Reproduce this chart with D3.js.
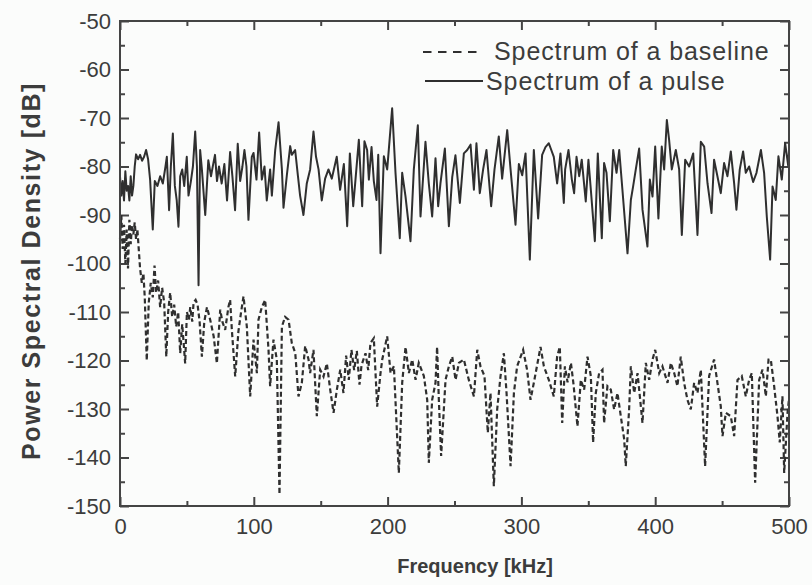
<!DOCTYPE html>
<html>
<head>
<meta charset="utf-8">
<script src="https://cdn.jsdelivr.net/npm/d3@7"></script>
<style>
  html, body { margin: 0; padding: 0; background: #fbfcfb; }
  svg { display: block; font-family: "Liberation Sans", Arial, sans-serif; }
  .axis text { fill: #3c3c3c; font-size: 22px; }
  .axis line { stroke: #444; stroke-width: 2; }
  .axis path { display: none; }
</style>
</head>
<body>
<div class="visual"></div>
<script>
const [W, H] = [812, 585];
const margin = { top: 21, right: 23, bottom: 79, left: 120 };
const width = W - margin.left - margin.right;
const height = H - margin.top - margin.bottom;

// axis ticks
const xTicks = [0, 100, 200, 300, 400, 500];
const xMinor = [50, 150, 250, 350, 450];
const yTicks = [-150, -140, -130, -120, -110, -100, -90, -80, -70, -60, -50];
const yMinor = [-145, -135, -125, -115, -105, -95, -85, -75, -65, -55];

const seriesNames = ['Spectrum of a baseline', 'Spectrum of a pulse'];

// pulse spectrum (kHz, dB)
const pulseFreq = [0, 1, 2, 3, 4, 5, 6, 7, 8, 9, 10, 11, 12, 13.5, 15, 16.5, 18, 19.5, 21, 22.5,
  24.5, 26, 28, 30, 32, 34, 35, 36.7, 38, 39.5, 41, 42.4, 43.7, 45, 46.5, 48, 49.9, 51.2, 53, 54.5,
  56.2, 57.5, 58.7, 59.9, 61.2, 63.7, 66, 68, 70, 71, 72.5, 74, 76, 78, 80, 82.3, 84, 86, 88, 89.8,
  91.5, 93, 94.5, 96, 98.5, 99.8, 102, 104, 106, 108, 109.7, 112.2, 113.5, 116, 118.5, 121, 122.2, 124.7, 127.2, 128.4,
  130.9, 133, 134.6, 137.1, 139.6, 142.1, 144.6, 146.5, 148.4, 150.8, 153.3, 155.8, 158.3, 162, 164.5, 167.3, 169.8, 171.8, 174.3, 176,
  178.5, 181, 182.7, 184.7, 186, 188, 189.7, 191.7, 193, 194.7, 197.2, 199.7, 203.4, 205.9, 209.1, 210.9, 213.4, 217.1, 219.6, 222.6,
  224.6, 228.3, 230.8, 233.3, 235.8, 237.8, 239.5, 242.8, 245.8, 248.3, 250.7, 254, 257, 259.5, 262, 264.5, 266.4, 268.9, 271.4, 273.9,
  277.4, 279.9, 283.1, 285.6, 289.4, 291.9, 295.6, 298.1, 300.6, 303.1, 306.3, 309.3, 312.5, 315.5, 318, 320.5, 324.2, 326.7, 329.2, 331.7,
  332.7, 335.2, 337.7, 339.4, 341.2, 343.2, 345.1, 348.1, 350.1, 351.9, 354.9, 357.1, 360.1, 361.8, 363.6, 366.1, 368.6, 371.1, 373.1, 375.5,
  379.3, 381.8, 383.5, 385.5, 388, 390.5, 394.2, 396, 398, 400, 402.4, 404.9, 406.7, 408.7, 410.4, 412.4, 415.4, 417.9, 419.9, 422.4,
  425.4, 428.4, 431.6, 434.1, 436.6, 439.1, 442.1, 444, 446.5, 449, 451.5, 454, 456.5, 459, 460.7, 463.2, 465.7, 467.7, 470.2, 473.2,
  475.7, 479, 481.4, 483.4, 485.9, 487.7, 490.1, 492.1, 494.6, 497.1, 499.5, 500];
const pulseDb = [-82, -86, -83, -87, -81, -85, -84, -87, -82, -86, -84, -80, -77.5, -78.5, -77.6, -78.8, -78, -76.6, -78.5, -82.7,
  -93, -83, -84, -82, -83.5, -80, -78, -89, -80, -73.2, -84, -87, -92.4, -82, -80.6, -84, -78, -86, -83, -80,
  -72.8, -80, -104.5, -76.6, -80.6, -90, -78.7, -82, -79, -77.6, -83, -80, -83.5, -79.5, -87, -77, -82, -89, -75.3, -83,
  -80, -76.6, -80, -91, -78, -77.2, -82.7, -73, -82.7, -80, -87, -80.6, -86, -76.6, -70.9, -80.6, -88.5, -81.8, -75.8, -77.6,
  -76.6, -82, -86, -90, -83.5, -80.6, -72.8, -78, -80.6, -87, -82.5, -80.6, -82.5, -78, -84.8, -79.5, -92.3, -77.3, -88.2, -82.7,
  -74.5, -88.2, -74.8, -76.6, -82.7, -76, -83, -86.9, -77.6, -97.9, -77.9, -80.6, -68, -81.3, -94.8, -81.3, -86.2, -95.4, -80.6, -71.5,
  -90.3, -74.9, -83.5, -90.3, -78.3, -88.2, -83.5, -76.3, -92.3, -82.2, -77.7, -87.5, -77.3, -76.6, -75.5, -84.8, -75.2, -85.5, -80.6, -76.6,
  -88.2, -80.6, -73.8, -82.5, -72.5, -80.6, -92, -79.5, -81.8, -77.3, -99.2, -76.6, -90.7, -77.6, -76, -75.2, -78, -83.5, -77.3, -87.5,
  -80.6, -76.6, -82.7, -85.5, -78, -82, -78.6, -87.2, -78.6, -84.8, -95.4, -77.3, -94.8, -79.3, -81.3, -91.3, -76.6, -81.3, -76.6, -84.8,
  -97.9, -86.9, -84.1, -80.6, -76.3, -88.9, -96.5, -82.7, -86.2, -75.9, -90.7, -75.9, -80.6, -70.4, -74.5, -80.6, -76.6, -80.6, -94.1, -78.6,
  -80, -77.3, -94.1, -74.9, -75.9, -83.5, -89.6, -78.6, -82, -85.5, -79.3, -82, -76.9, -83.5, -88.9, -80.6, -76.9, -81.3, -80, -83.2,
  -81.3, -76.6, -81.3, -90.3, -99.2, -84.1, -86.9, -77.9, -82.7, -75.2, -80, -77];

// baseline spectrum (kHz, dB)
const baseFreq = [0, 1, 2, 3, 4, 5, 6, 7, 8, 9, 10, 11, 12, 13, 14, 15, 16.3, 17.5, 18.5, 20,
  21.5, 23, 24.5, 25.8, 27, 28.5, 30, 31.5, 33, 34.6, 36, 37.5, 39, 40.5, 42, 43.5, 45, 46.5, 48.7, 50,
  51.5, 52.5, 54, 55, 56.5, 58, 59.5, 61.2, 63, 65, 67.4, 70, 72.4, 74.9, 76.5, 78.6, 81, 82.3, 83.6, 86.1,
  88.5, 90.5, 92.3, 94.8, 97.3, 99.8, 102.3, 103.5, 106, 108.5, 111, 112.2, 114.7, 117.2, 119.2, 121, 123.4, 126, 128.4, 131,
  133.4, 135.9, 138.4, 140.9, 142.1, 144.6, 147.1, 149.6, 152.1, 154.6, 157.1, 159.6, 162.1, 164.6, 167, 169, 171, 173, 175, 177,
  179, 180.5, 183.5, 185.5, 187.2, 189.7, 192.2, 194.7, 196, 199.7, 202.2, 204.7, 208.4, 210.9, 213.4, 215.9, 218.4, 220.9, 223.3, 227.1,
  229.6, 230.8, 233.3, 235.8, 237, 238.3, 240, 243.3, 245.8, 248.3, 250.8, 253.3, 257, 260.7, 264.5, 267, 269.4, 272.4, 274.9, 276.9,
  279.4, 281.9, 284.4, 286.9, 288.9, 291.9, 294.4, 296.8, 301.3, 304.3, 306.8, 309.3, 314.3, 316.8, 320.5, 324.2, 326.7, 328.7, 330.5, 332.5,
  334.5, 337, 339, 341.9, 344.4, 346.9, 349.4, 351.9, 353.6, 355.6, 358.1, 360.6, 361.8, 364.3, 366.8, 369.3, 371.8, 374.3, 376.8, 378,
  380.5, 381.8, 384.3, 386.8, 390.5, 393, 395.5, 398, 400, 403, 405.4, 409.2, 411.7, 414.2, 416.6, 419.1, 421.6, 424.1, 426.6, 429.1,
  431.6, 434.1, 437.3, 440.3, 444, 446.5, 449, 450.3, 452.8, 456.5, 459, 461.5, 464.7, 467.7, 470.2, 472.2, 474.7, 477.7, 480.2, 482.7,
  484.7, 486.4, 488.9, 491.4, 493.1, 495.1, 496.4, 498.9, 500];
const baseDb = [-95, -90, -97, -92, -100, -93, -101, -91, -96, -92, -94, -91.5, -95, -93, -97, -101, -104, -102, -107, -120,
  -108, -104, -107, -100.4, -106, -103.5, -109, -105, -108, -119.2, -110, -106, -111, -108.5, -113, -110, -118.5, -112.5, -120.6, -110,
  -111.6, -109, -112, -108, -107.5, -108.5, -112, -119.2, -112, -109, -111.6, -115, -120.6, -109.5, -112, -113.7, -109, -107.5, -113.7, -123.3,
  -114, -110, -106.8, -113, -127.4, -115.7, -122.6, -111.6, -109, -107.5, -117.8, -125.3, -115.7, -119.8, -147.6, -113, -111, -111.6, -116.4, -118.5,
  -127.4, -124.6, -117, -119.8, -122.6, -117.8, -131.5, -121.9, -123.3, -120.6, -126, -130.8, -126, -121.9, -126.7, -119, -124, -117.8, -122, -118,
  -125, -121, -118.5, -122, -116.4, -115.4, -129.5, -122.6, -119.8, -115, -122.6, -121.2, -143.2, -124.6, -117.2, -122.6, -119.8, -124, -120.5, -123.2,
  -128.1, -141.1, -128.1, -124.6, -117.2, -128.1, -139.7, -124, -121.2, -119.2, -124, -120.5, -119.8, -124, -127.4, -117.8, -121.2, -123.2, -134.9, -126.7,
  -145.9, -130.1, -123.2, -118.5, -126.7, -141.8, -126.7, -121.2, -117.8, -122, -128.1, -124.6, -117.2, -121.2, -124, -127.4, -119.2, -117.2, -132.9, -121.2,
  -124.5, -120.5, -125, -133.6, -124, -126, -119.2, -123.2, -136.9, -126.7, -122.6, -121.9, -132.9, -125.3, -126, -130.1, -126.7, -131.5, -136.2, -141.8,
  -130.1, -121.2, -126.7, -122.6, -132.9, -120.5, -124, -119.8, -117.8, -122.6, -121.2, -124.6, -120.5, -122.6, -125.3, -119.2, -124.6, -128.1, -130.1, -124.6,
  -126.7, -121.9, -141.8, -123.2, -119.8, -124.6, -129.4, -135.6, -130.8, -131.5, -135.6, -124, -123.2, -127.4, -124, -122.6, -145.2, -124, -121.9, -127.4,
  -119.8, -119.8, -125.3, -131.5, -136.9, -127.4, -143.2, -130.8, -128];

const svg = d3.select('.visual').append('svg').attr('width', W).attr('height', H);
const g = svg.append('g').attr('transform', `translate(${margin.left},${margin.top})`);

const x = d3.scaleLinear().domain([0, 500]).range([0, width]);
const y = d3.scaleLinear().domain([-150, -50]).range([height, 0]);

const major = 9, minor = 5;
const plain = (d) => String(d); // hyphen minus like the original

// left / bottom with labels, top / right plain
g.append('g').attr('class', 'axis')
  .call(d3.axisLeft(y).tickValues(yTicks).tickSize(-major).tickPadding(9).tickFormat(plain));
g.append('g').attr('class', 'axis')
  .call(d3.axisLeft(y).tickValues(yMinor).tickSize(-minor).tickFormat(''));
g.append('g').attr('class', 'axis').attr('transform', `translate(0,${height})`)
  .call(d3.axisBottom(x).tickValues(xTicks).tickSize(-major).tickPadding(12).tickFormat(plain));
g.append('g').attr('class', 'axis').attr('transform', `translate(0,${height})`)
  .call(d3.axisBottom(x).tickValues(xMinor).tickSize(-minor).tickFormat(''));
g.append('g').attr('class', 'axis')
  .call(d3.axisTop(x).tickValues(xTicks).tickSize(-major).tickFormat(''));
g.append('g').attr('class', 'axis')
  .call(d3.axisTop(x).tickValues(xMinor).tickSize(-minor).tickFormat(''));
g.append('g').attr('class', 'axis').attr('transform', `translate(${width},0)`)
  .call(d3.axisRight(y).tickValues(yTicks).tickSize(-major).tickFormat(''));
g.append('g').attr('class', 'axis').attr('transform', `translate(${width},0)`)
  .call(d3.axisRight(y).tickValues(yMinor).tickSize(-minor).tickFormat(''));

g.selectAll('.axis text').attr('font-size', 22);

const line = d3.line().x((d) => x(d[0])).y((d) => y(d[1]));

g.append('path')
  .datum(d3.zip(baseFreq, baseDb))
  .attr('d', line)
  .attr('fill', 'none')
  .attr('stroke', '#2f2f2f')
  .attr('stroke-width', 2.2)
  .attr('stroke-dasharray', '5,3');

g.append('path')
  .datum(d3.zip(pulseFreq, pulseDb))
  .attr('d', line)
  .attr('fill', 'none')
  .attr('stroke', '#2f2f2f')
  .attr('stroke-width', 2)
  .attr('stroke-linejoin', 'round');

// frame
g.append('rect')
  .attr('width', width).attr('height', height)
  .attr('fill', 'none').attr('stroke', '#444').attr('stroke-width', 2);

// legend
const legend = svg.append('g').attr('fill', '#3c3c3c').style('font-size', '25px');
legend.append('line').attr('x1', 423).attr('x2', 478).attr('y1', 52).attr('y2', 52)
  .attr('stroke', '#2f2f2f').attr('stroke-width', 2).attr('stroke-dasharray', '8.5,6.5');
legend.append('text').attr('x', 494).attr('y', 60).style('letter-spacing', '0.9px').text(seriesNames[0]);
legend.append('line').attr('x1', 425).attr('x2', 483).attr('y1', 81).attr('y2', 81)
  .attr('stroke', '#2f2f2f').attr('stroke-width', 2);
legend.append('text').attr('x', 486).attr('y', 90).style('letter-spacing', '0.9px').text(seriesNames[1]);

// axis titles
svg.append('text')
  .attr('x', 475).attr('y', 573)
  .attr('text-anchor', 'middle').attr('font-weight', 'bold').attr('font-size', 20)
  .attr('fill', '#3c3c3c').text('Frequency [kHz]');

svg.append('text')
  .attr('transform', 'rotate(-90)')
  .attr('x', -271).attr('y', 40)
  .attr('text-anchor', 'middle').attr('font-weight', 'bold').attr('font-size', 25)
  .style('letter-spacing', '1.6px')
  .attr('fill', '#3c3c3c').text('Power Spectral Density [dB]');
</script>
</body>
</html>
